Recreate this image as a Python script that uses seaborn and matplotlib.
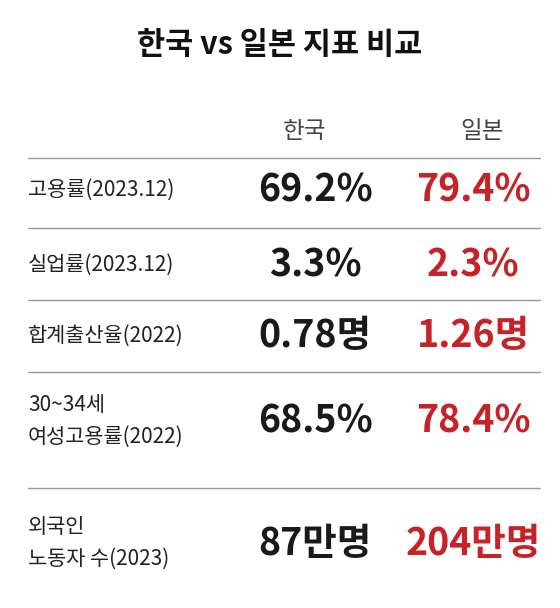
import matplotlib.pyplot as plt
import seaborn as sns

# data
title = "한국 vs 일본 지표 비교"
columns = ["한국", "일본"]
row_labels = ["고용률(2023.12)", "실업률(2023.12)", "합계출산율(2022)",
              "30~34세\n여성고용률(2022)", "외국인\n노동자 수(2023)"]
korea = ["69.2%", "3.3%", "0.78명", "68.5%", "87만명"]
japan = ["79.4%", "2.3%", "1.26명", "78.4%", "204만명"]

sns.set_theme(style="white")
plt.rcParams['font.family'] = ['Noto Sans CJK KR', 'DejaVu Sans']

fig = plt.figure(figsize=(5.6, 6.08), dpi=100)
ax = fig.add_axes([0, 0, 1, 1])
ax.set_xlim(0, 560)
ax.set_ylim(608, 0)
ax.axis("off")

ax.text(280, 45, title, ha="center", va="center", fontsize=22, fontweight="bold", color="#111111")
ax.text(305, 132, columns[0], ha="center", va="center", fontsize=17, color="#444444")
ax.text(482, 132, columns[1], ha="center", va="center", fontsize=17, color="#444444")

row_y = [190, 265, 336, 421, 543]
line_y = [158, 228, 300, 372, 488]
for ly in line_y:
    ax.plot([28, 540], [ly, ly], color="#9a9a9a", lw=1)

for y, lab, k, j in zip(row_y, row_labels, korea, japan):
    ax.text(28, y, lab, ha="left", va="center", fontsize=15, color="#222222", linespacing=1.6)
    ax.text(315, y, k, ha="center", va="center", fontsize=27, fontweight="heavy", color="#1a1a1a")
    ax.text(473, y, j, ha="center", va="center", fontsize=27, fontweight="heavy", color="#c62328")

fig.savefig("out.png", dpi=100)
